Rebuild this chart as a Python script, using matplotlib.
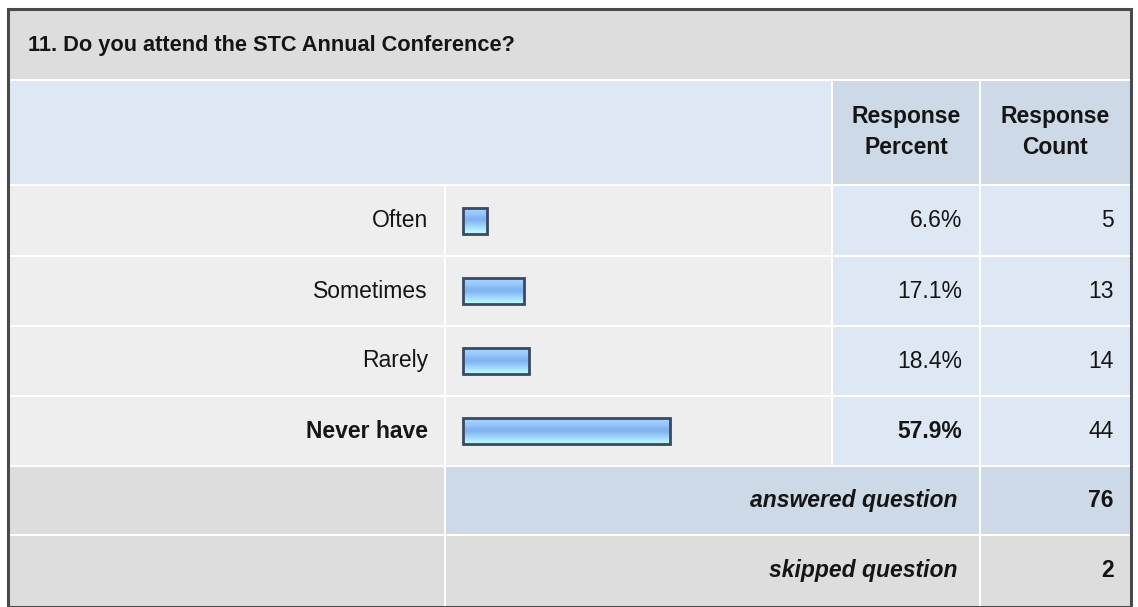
import numpy as np
import matplotlib
matplotlib.use("Agg")
import matplotlib.pyplot as plt
from matplotlib.patches import Rectangle

plt.rcParams['font.family'] = ['Liberation Sans', 'DejaVu Sans']

question = "11. Do you attend the STC Annual Conference?"
answers = ["Often", "Sometimes", "Rarely", "Never have"]
percents = [6.6, 17.1, 18.4, 57.9]
counts = [5, 13, 14, 44]
answered = 76
skipped = 2

W, H = 1138, 607
fig = plt.figure(figsize=(W / 100, H / 100), dpi=100)
ax = fig.add_axes([0, 0, 1, 1])
ax.set_xlim(0, W)
ax.set_ylim(H, 0)
ax.axis("off")
fig.patch.set_facecolor("white")

GRAY = "#dddddd"
ROWGRAY = "#eeeeee"
LIGHTBLUE = "#dee8f5"
MIDBLUE = "#cdd9e6"
TXT = "#151515"
FS = 16.5

# column edges (pixels)
cx = [10, 445, 832, 980, 1131]
# row edges
ry = [10, 80, 185, 256, 326, 396, 466, 535, 606]


def cell(x0, x1, y0, y1, color):
    ax.add_patch(Rectangle((x0, y0), x1 - x0, y1 - y0, facecolor=color,
                           edgecolor="none", zorder=1))


# background is white so 2px gaps between cells become grid lines
g = 1
cell(cx[0], cx[4], ry[0], ry[1] - g, GRAY)
cell(cx[0], cx[2] - g, ry[1] + g, ry[2] - g, LIGHTBLUE)
cell(cx[2] + g, cx[3] - g, ry[1] + g, ry[2] - g, MIDBLUE)
cell(cx[3] + g, cx[4], ry[1] + g, ry[2] - g, MIDBLUE)
for i in range(len(answers)):
    y0, y1 = ry[2 + i] + g, ry[3 + i] - g
    cell(cx[0], cx[1] - g, y0, y1, ROWGRAY)
    cell(cx[1] + g, cx[2] - g, y0, y1, ROWGRAY)
    cell(cx[2] + g, cx[3] - g, y0, y1, LIGHTBLUE)
    cell(cx[3] + g, cx[4], y0, y1, LIGHTBLUE)
# answered row
cell(cx[0], cx[1] - g, ry[6] + g, ry[7] - g, GRAY)
cell(cx[1] + g, cx[3] - g, ry[6] + g, ry[7] - g, MIDBLUE)
cell(cx[3] + g, cx[4], ry[6] + g, ry[7] - g, MIDBLUE)
# skipped row
cell(cx[0], cx[1] - g, ry[7] + g, ry[8], GRAY)
cell(cx[1] + g, cx[3] - g, ry[7] + g, ry[8], GRAY)
cell(cx[3] + g, cx[4], ry[7] + g, ry[8], GRAY)

# outer frame
ax.add_patch(Rectangle((8.5, 8.5), 1123, 598, facecolor="none",
                       edgecolor="#4a4a4a", linewidth=2.2, zorder=5))

# title and header
ax.text(28, 45, question, fontsize=15.7, fontweight="bold", color=TXT,
        ha="left", va="center")
pc = (cx[2] + cx[3]) / 2
cc = (cx[3] + cx[4]) / 2
ax.text(pc, 132, "Response\nPercent", fontsize=FS, fontweight="bold", color=TXT,
        ha="center", va="center", linespacing=1.45)
ax.text(cc, 132, "Response\nCount", fontsize=FS, fontweight="bold", color=TXT,
        ha="center", va="center", linespacing=1.45)

# gradient for bars
grad = np.array([
    [0.66, 0.82, 1.00], [0.62, 0.80, 0.99], [0.58, 0.77, 0.98],
    [0.52, 0.72, 0.95], [0.50, 0.70, 0.94], [0.56, 0.76, 0.97],
    [0.62, 0.83, 0.99], [0.68, 0.90, 1.00], [0.72, 0.97, 1.00],
])[:, None, :]

bar_left = 463
scale = 3.58
bar_h = 26
centers = [(ry[2 + i] + ry[3 + i]) / 2 for i in range(len(answers))]
widths = [p * scale for p in percents]
bars = ax.barh(centers, widths, left=bar_left, height=bar_h, facecolor="none",
               edgecolor="#3a4a62", linewidth=2.0, zorder=4)
for yc, w in zip(centers, widths):
    ax.imshow(grad, extent=(bar_left, bar_left + w, yc + bar_h / 2, yc - bar_h / 2),
              aspect="auto", interpolation="bilinear", zorder=3)
ax.set_xlim(0, W)
ax.set_ylim(H, 0)

for i, (name, p, c) in enumerate(zip(answers, percents, counts)):
    yc = centers[i]
    wt = "bold" if i == len(answers) - 1 else "normal"
    ax.text(428, yc, name, fontsize=FS, fontweight=wt, color=TXT, ha="right", va="center")
    ax.text(962, yc, f"{p}%", fontsize=FS, fontweight=wt, color=TXT, ha="right", va="center")
    ax.text(1114, yc, str(c), fontsize=FS, color=TXT, ha="right", va="center")

ya = (ry[6] + ry[7]) / 2
ys = (ry[7] + ry[8]) / 2
ax.text(958, ya, "answered question", fontsize=FS, fontweight="bold", style="italic",
        color=TXT, ha="right", va="center")
ax.text(1114, ya, str(answered), fontsize=FS, fontweight="bold", color=TXT,
        ha="right", va="center")
ax.text(958, ys, "skipped question", fontsize=FS, fontweight="bold", style="italic",
        color=TXT, ha="right", va="center")
ax.text(1114, ys, str(skipped), fontsize=FS, fontweight="bold", color=TXT,
        ha="right", va="center")

fig.savefig("out.png", dpi=100, facecolor="white")
